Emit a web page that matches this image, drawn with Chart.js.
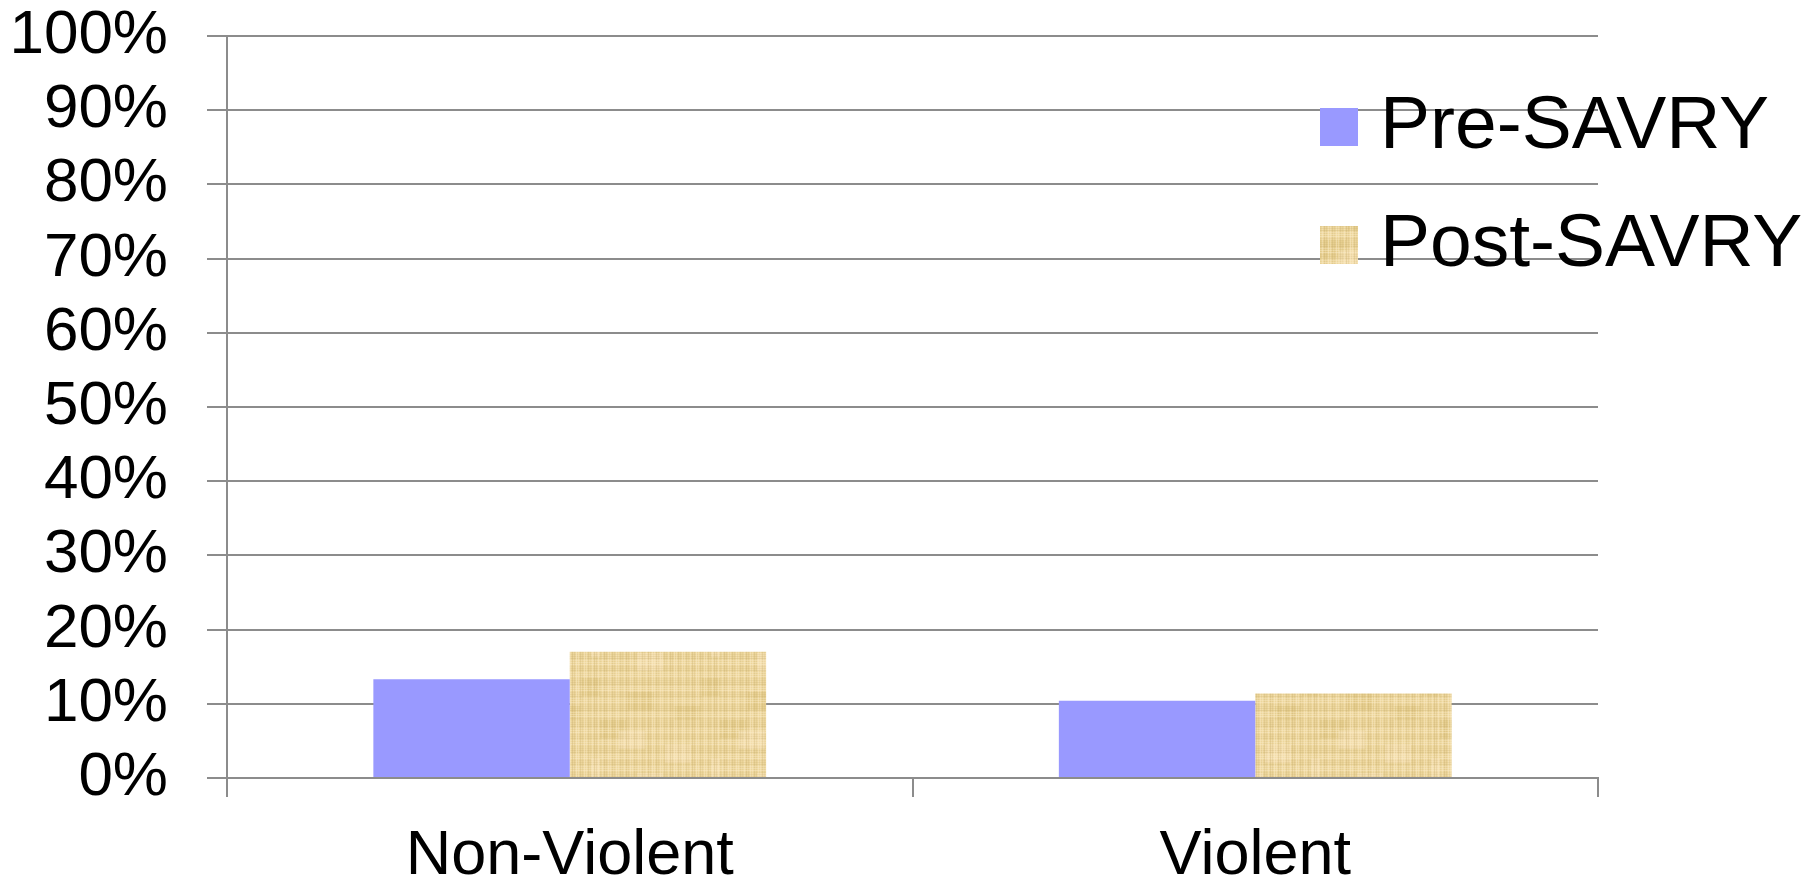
<!DOCTYPE html>
<html>
<head>
<meta charset="utf-8">
<script src="https://cdn.jsdelivr.net/npm/chart.js@4.4.1/dist/chart.umd.min.js"></script>
<style>
  html, body { margin: 0; padding: 0; background: #ffffff; }
  #wrap { width: 1819px; height: 880px; position: relative; }
</style>
</head>
<body>
<div id="wrap"><canvas id="c" width="1819" height="880"></canvas></div>
<script>
const categories = ['Non-Violent', 'Violent'];
const seriesNames = ['Pre-SAVRY', 'Post-SAVRY'];
const preValues = [13.3, 10.4];
const postValues = [17.0, 11.4];
const yTickLabels = ['0%', '10%', '20%', '30%', '40%', '50%', '60%', '70%', '80%', '90%', '100%'];

const FONT = "'Liberation Sans', Arial, Helvetica, sans-serif";

// deterministic papyrus-like texture
function makeTexture() {
  const s = 120;
  const cv = document.createElement('canvas');
  cv.width = s; cv.height = s;
  const g = cv.getContext('2d');
  g.fillStyle = '#EDD69C';
  g.fillRect(0, 0, s, s);
  for (let k = 0; k < 8; k++) {
    const x = (k * 37) % s, y = (k * 53) % s;
    g.fillStyle = k % 2 ? 'rgba(248,228,185,0.55)' : 'rgba(225,200,130,0.45)';
    g.fillRect(x, y, 26, 18);
  }
  for (let i = 0; i < s; i += 2) {
    const a = ((i * 37) % 11) / 11;
    g.fillStyle = a > 0.5 ? 'rgba(250,235,200,' + (0.2 + a * 0.3) + ')' : 'rgba(190,165,100,' + (0.1 + a * 0.4) + ')';
    g.fillRect(i, 0, 1, s);
    const b = ((i * 53) % 13) / 13;
    g.fillStyle = b > 0.5 ? 'rgba(252,238,205,' + (0.15 + b * 0.3) + ')' : 'rgba(190,165,100,' + (0.08 + b * 0.35) + ')';
    g.fillRect(0, i, s, 1);
  }
  return g.createPattern(cv, 'repeat');
}
const ctx = document.getElementById('c').getContext('2d');
const texture = makeTexture();

const legendPlugin = {
  id: 'customLegend',
  afterDraw(chart) {
    const c = chart.ctx;
    const ca = chart.chartArea;
    const x0 = ca.right - 278;
    const rows = [ca.top + 91, ca.top + 209];
    c.save();
    chart.data.datasets.forEach((ds, i) => {
      const cy = rows[i];
      c.fillStyle = ds.backgroundColor;
      c.fillRect(x0, cy - 19, 38, 38);
      c.fillStyle = '#000';
      c.font = '75px ' + FONT;
      c.textBaseline = 'middle';
      c.textAlign = 'left';
      c.fillText(ds.label, x0 + 60, cy);
    });
    c.restore();
  }
};

new Chart(ctx, {
  type: 'bar',
  data: {
    labels: categories,
    datasets: [
      { label: seriesNames[0], data: preValues, backgroundColor: '#9999FF', borderWidth: 0 },
      { label: seriesNames[1], data: postValues, backgroundColor: texture, borderWidth: 0 }
    ]
  },
  options: {
    responsive: false,
    animation: false,
    devicePixelRatio: 1,
    layout: { padding: { top: 36, right: 221, bottom: 0, left: 0 } },
    plugins: { legend: { display: false }, tooltip: { enabled: false } },
    datasets: { bar: { barPercentage: 1.0, categoryPercentage: 0.573 } },
    scales: {
      x: {
        grid: { display: true, drawOnChartArea: false, offset: true, color: '#8c8c8c', lineWidth: 2, tickLength: 19 },
        border: { display: true, color: '#8c8c8c', width: 2 },
        ticks: { color: '#000', font: { family: FONT, size: 63, lineHeight: 1.2 }, padding: 22, maxRotation: 0 },
        afterFit(scale) { scale.height = 102; scale.paddingLeft = 0; scale.paddingRight = 0; }
      },
      y: {
        min: 0, max: 100,
        afterBuildTicks(scale) {
          scale.ticks = yTickLabels.map((t, i) => ({ value: i * 10 }));
        },
        grid: { color: '#8c8c8c', lineWidth: 2, tickLength: 20 },
        border: { display: true, color: '#8c8c8c', width: 2 },
        ticks: {
          color: '#000',
          font: { family: FONT, size: 62, lineHeight: 1.0 },
          padding: 39,
          callback: (v, i) => yTickLabels[i]
        },
        afterFit(scale) { scale.width = 227; scale.paddingTop = 0; scale.paddingBottom = 0; }
      }
    }
  },
  plugins: [legendPlugin]
});
</script>
</body>
</html>
